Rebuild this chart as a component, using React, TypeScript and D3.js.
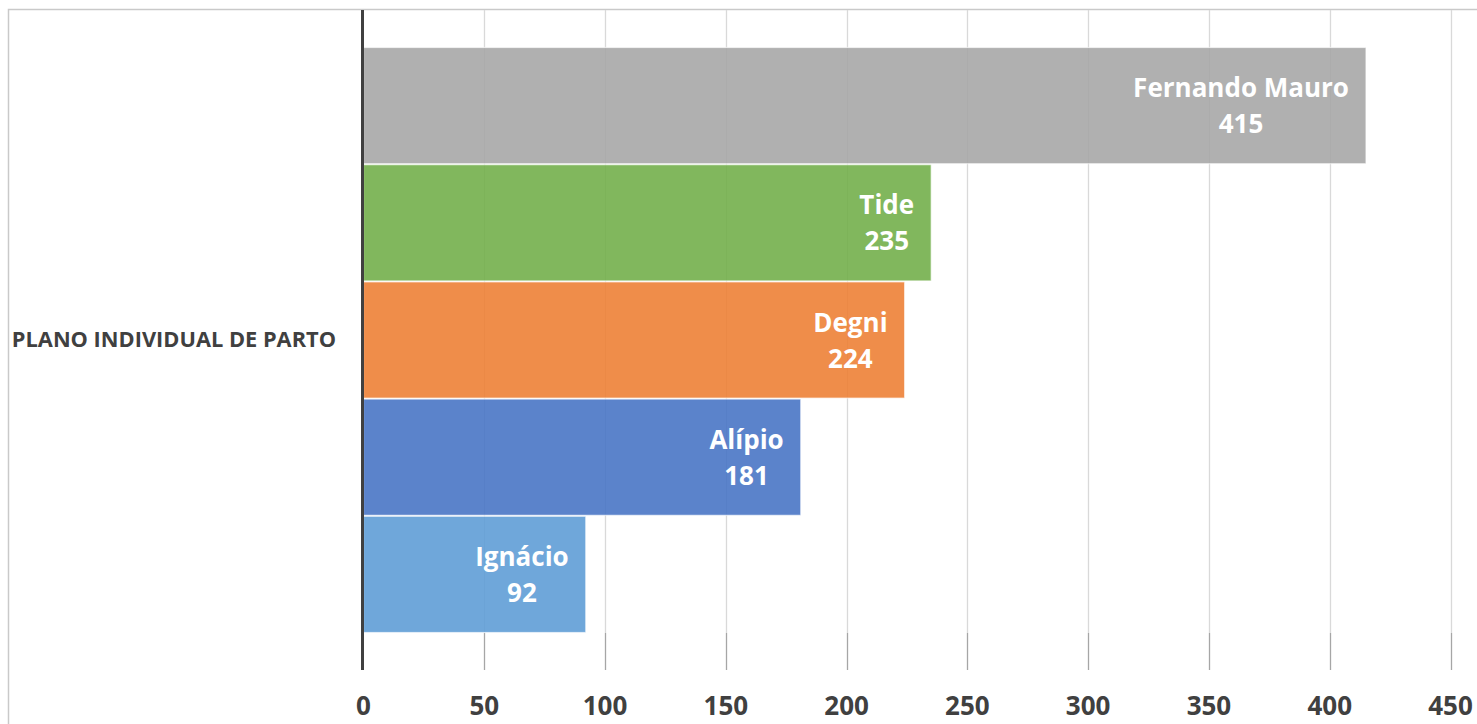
import React, { useEffect, useRef } from "react";
import * as d3 from "d3";

const categoryLabel = "PLANO INDIVIDUAL DE PARTO";
const names = ["Fernando Mauro", "Tide", "Degni", "Alípio", "Ignácio"];
const values = [415, 235, 224, 181, 92];
const colors = ["#a5a5a5", "#70ad47", "#ed7d31", "#4472c4", "#5b9bd5"];
const tickValues = [0, 50, 100, 150, 200, 250, 300, 350, 400, 450];

const W = 1477;
const H = 724;
const FONT = "'Open Sans', 'DejaVu Sans', sans-serif";

export default function App() {
  const ref = useRef<SVGSVGElement | null>(null);

  useEffect(() => {
    const svg = d3.select(ref.current);
    svg.selectAll("*").remove();

    const x = d3.scaleLinear().domain([0, 450]).range([363.5, 1450.5]);
    const y = d3.scaleBand<string>().domain(names).range([47, 633]).paddingInner(0);
    const top = 10;
    const axisBottom = 670;

    // outer frame
    svg.append("rect")
      .attr("x", 8.5).attr("y", 9.5)
      .attr("width", W + 20).attr("height", H + 20)
      .attr("fill", "#fff").attr("stroke", "#c9c9c9").attr("stroke-width", 1.5);

    // gridlines
    const grid = svg.append("g");
    tickValues.filter((t) => t > 0).forEach((t) => {
      grid.append("line")
        .attr("x1", Math.round(x(t)) + 0.5).attr("x2", Math.round(x(t)) + 0.5)
        .attr("y1", top).attr("y2", 633)
        .attr("stroke", "#d9d9d9").attr("stroke-width", 1.3);
      grid.append("line")
        .attr("x1", Math.round(x(t)) + 0.5).attr("x2", Math.round(x(t)) + 0.5)
        .attr("y1", 633).attr("y2", axisBottom)
        .attr("stroke", "#a6a6a6").attr("stroke-width", 1.3);
    });

    // bars
    const bars = svg.append("g");
    names.forEach((n, i) => {
      const y0 = y(n)!;
      bars.append("rect")
        .attr("x", x(0)).attr("y", y0 + 0.5)
        .attr("width", x(values[i]) - x(0)).attr("height", y.bandwidth() - 1)
        .attr("fill", colors[i]).attr("fill-opacity", 0.88)
        .attr("stroke", "#ffffff").attr("stroke-opacity", 0.6).attr("stroke-width", 1.2);
    });

    // bar labels
    const labels = svg.append("g")
      .attr("font-family", FONT).attr("font-weight", 700)
      .attr("font-size", 26).attr("fill", "#ffffff");
    names.forEach((n, i) => {
      const cy = y(n)! + y.bandwidth() / 2;
      const g = labels.append("g");
      const t1 = g.append("text").attr("text-anchor", "middle").attr("y", cy - 8.5).text(n);
      const t2 = g.append("text").attr("text-anchor", "middle").attr("y", cy + 27.5).text(String(values[i]));
      const w = Math.max(
        (t1.node() as SVGTextElement).getComputedTextLength(),
        (t2.node() as SVGTextElement).getComputedTextLength()
      );
      const cx = x(values[i]) - 17 - w / 2;
      t1.attr("x", cx);
      t2.attr("x", cx);
    });

    // axis line
    svg.append("line")
      .attr("x1", 362.5).attr("x2", 362.5)
      .attr("y1", top).attr("y2", axisBottom)
      .attr("stroke", "#404040").attr("stroke-width", 3);

    // tick labels
    const tl = svg.append("g")
      .attr("font-family", FONT).attr("font-weight", 700)
      .attr("font-size", 26).attr("fill", "#404040");
    tickValues.forEach((t) => {
      tl.append("text").attr("x", x(t)).attr("y", 715)
        .attr("text-anchor", "middle").text(String(t));
    });

    // category label
    svg.append("text")
      .attr("x", 336).attr("y", 347)
      .attr("text-anchor", "end")
      .attr("font-family", FONT).attr("font-weight", 700)
      .attr("font-size", 21.8).attr("fill", "#404040")
      .text(categoryLabel);
  }, []);

  return (
    <svg
      ref={ref}
      width={W}
      height={H}
      style={{ position: "fixed", left: 0, top: 0, display: "block", background: "#fff" }}
    />
  );
}
